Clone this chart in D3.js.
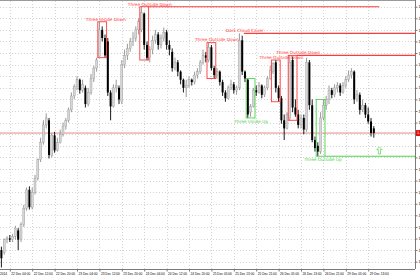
<!DOCTYPE html>
<html>
<head>
<meta charset="utf-8">
<title>H1 candles with patterns</title>
<script src="https://cdn.jsdelivr.net/npm/d3@7"></script>
<style>
    body { margin: 0; background: #fff; overflow: hidden; }
    svg { display: block; font-family: "DejaVu Sans", sans-serif; }
</style>
</head>
<body>
<div id="chart"></div>
<script>

// ---- data ----
var opens = [1.2090,1.2088,1.2099,1.2100,1.2099,1.2102,1.2107,1.2099,1.2112,1.2126,
    1.2142,1.2127,1.2140,1.2152,1.2168,1.2183,1.2198,1.2202,1.2172,1.2189,
    1.2176,1.2183,1.2190,1.2197,1.2202,1.2211,1.2223,1.2231,1.2237,1.2228,
    1.2230,1.2216,1.2226,1.2238,1.2247,1.2257,1.2280,1.2273,1.2270,1.2226,
    1.2214,1.2230,1.2230,1.2218,1.2250,1.2258,1.2264,1.2270,1.2273,1.2280,
    1.2280,1.2294,1.2267,1.2256,1.2263,1.2271,1.2276,1.2267,1.2273,1.2278,
    1.2267,1.2261,1.2247,1.2252,1.2244,1.2237,1.2230,1.2232,1.2237,1.2235,
    1.2241,1.2244,1.2252,1.2258,1.2254,1.2265,1.2247,1.2241,1.2244,1.2235,
    1.2226,1.2221,1.2230,1.2233,1.2228,1.2230,1.2271,1.2244,1.2237,1.2209,
    1.2214,1.2228,1.2226,1.2232,1.2224,1.2230,1.2238,1.2244,1.2252,1.2230,
    1.2221,1.2202,1.2195,1.2204,1.2254,1.2213,1.2207,1.2198,1.2204,1.2194,
    1.2252,1.2215,1.2185,1.2180,1.2175,1.2204,1.2215,1.2220,1.2228,1.2224,
    1.2230,1.2232,1.2226,1.2232,1.2237,1.2241,1.2244,1.2220,1.2224,1.2211,
    1.2215,1.2207,1.2201,1.2195];
var highs = [1.2093,1.2100,1.2102,1.2103,1.2104,1.2111,1.2109,1.2114,1.2129,1.2144,
    1.2145,1.2144,1.2155,1.2169,1.2187,1.2202,1.2208,1.2204,1.2191,1.2192,
    1.2187,1.2194,1.2200,1.2204,1.2213,1.2226,1.2233,1.2240,1.2238,1.2237,
    1.2232,1.2230,1.2242,1.2249,1.2256,1.2287,1.2283,1.2276,1.2273,1.2228,
    1.2233,1.2237,1.2232,1.2254,1.2263,1.2268,1.2273,1.2278,1.2283,1.2290,
    1.2300,1.2295,1.2270,1.2266,1.2275,1.2280,1.2278,1.2276,1.2282,1.2280,
    1.2271,1.2264,1.2256,1.2254,1.2245,1.2238,1.2237,1.2240,1.2238,1.2244,
    1.2247,1.2254,1.2263,1.2261,1.2269,1.2267,1.2249,1.2247,1.2245,1.2237,
    1.2228,1.2232,1.2237,1.2235,1.2232,1.2277,1.2275,1.2245,1.2238,1.2216,
    1.2230,1.2232,1.2235,1.2233,1.2232,1.2240,1.2249,1.2252,1.2254,1.2232,
    1.2223,1.2207,1.2209,1.2258,1.2257,1.2220,1.2211,1.2207,1.2207,1.2256,
    1.2254,1.2220,1.2188,1.2183,1.2209,1.2220,1.2223,1.2232,1.2230,1.2233,
    1.2235,1.2234,1.2235,1.2240,1.2245,1.2247,1.2245,1.2228,1.2226,1.2220,
    1.2217,1.2213,1.2204,1.2197];
var lows = [1.2075,1.2086,1.2096,1.2097,1.2097,1.2099,1.2090,1.2097,1.2110,1.2124,
    1.2125,1.2125,1.2138,1.2150,1.2166,1.2181,1.2195,1.2169,1.2170,1.2174,
    1.2175,1.2182,1.2188,1.2194,1.2200,1.2209,1.2220,1.2228,1.2225,1.2226,
    1.2213,1.2214,1.2224,1.2235,1.2244,1.2257,1.2270,1.2256,1.2223,1.2202,
    1.2213,1.2226,1.2216,1.2216,1.2247,1.2254,1.2261,1.2266,1.2270,1.2276,
    1.2278,1.2263,1.2254,1.2252,1.2259,1.2268,1.2263,1.2264,1.2270,1.2263,
    1.2258,1.2244,1.2245,1.2240,1.2233,1.2226,1.2222,1.2230,1.2232,1.2233,
    1.2238,1.2242,1.2250,1.2252,1.2252,1.2245,1.2238,1.2238,1.2232,1.2223,
    1.2218,1.2220,1.2228,1.2225,1.2224,1.2228,1.2241,1.2235,1.2204,1.2205,
    1.2213,1.2223,1.2225,1.2221,1.2222,1.2228,1.2237,1.2242,1.2226,1.2218,
    1.2199,1.2185,1.2194,1.2202,1.2209,1.2205,1.2195,1.2195,1.2190,1.2192,
    1.2211,1.2183,1.2175,1.2171,1.2173,1.2202,1.2211,1.2216,1.2221,1.2222,
    1.2226,1.2223,1.2225,1.2230,1.2235,1.2238,1.2216,1.2218,1.2207,1.2209,
    1.2204,1.2199,1.2188,1.2187];
var closes = [1.2083,1.2099,1.2100,1.2099,1.2102,1.2109,1.2099,1.2112,1.2126,1.2142,
    1.2127,1.2140,1.2152,1.2168,1.2183,1.2198,1.2204,1.2172,1.2189,1.2176,
    1.2183,1.2190,1.2197,1.2202,1.2211,1.2223,1.2231,1.2237,1.2228,1.2233,
    1.2216,1.2226,1.2238,1.2247,1.2254,1.2280,1.2273,1.2258,1.2226,1.2214,
    1.2230,1.2232,1.2220,1.2250,1.2258,1.2264,1.2270,1.2273,1.2280,1.2287,
    1.2295,1.2267,1.2256,1.2263,1.2271,1.2276,1.2267,1.2273,1.2278,1.2267,
    1.2263,1.2247,1.2252,1.2244,1.2237,1.2230,1.2232,1.2237,1.2235,1.2241,
    1.2244,1.2252,1.2258,1.2256,1.2265,1.2247,1.2241,1.2244,1.2235,1.2226,
    1.2221,1.2230,1.2233,1.2228,1.2230,1.2271,1.2244,1.2238,1.2207,1.2214,
    1.2228,1.2226,1.2232,1.2224,1.2230,1.2238,1.2245,1.2251,1.2230,1.2221,
    1.2202,1.2195,1.2207,1.2252,1.2213,1.2207,1.2198,1.2204,1.2194,1.2252,
    1.2215,1.2185,1.2178,1.2175,1.2204,1.2215,1.2220,1.2228,1.2224,1.2230,
    1.2232,1.2226,1.2232,1.2237,1.2241,1.2244,1.2220,1.2224,1.2211,1.2215,
    1.2207,1.2201,1.2191,1.2191];

var priceTicks = [1.2080,1.2090,1.2100,1.2110,1.2120,1.2130,1.2140,1.2150,1.2160,1.2170,
    1.2180,1.2190,1.2200,1.2210,1.2220,1.2230,1.2240,1.2250,1.2260,1.2270,
    1.2280,1.2290,1.2300];

var timeLabels = ["22 Dec 2014","22 Dec 04:00","22 Dec 12:00","22 Dec 20:00","23 Dec 04:00",
    "23 Dec 12:00","23 Dec 20:00","24 Dec 04:00","24 Dec 12:00","24 Dec 20:00",
    "25 Dec 05:00","25 Dec 13:00","25 Dec 21:00","26 Dec 05:00","26 Dec 13:00",
    "26 Dec 21:00","29 Dec 05:00","29 Dec 13:00"];
var firstLabelBar = -5, labelEvery = 8;

// candle patterns found on the chart
var patternNames = ["Three Inside Down","Three Outside Down","Three Outside Down","Dark Cloud Cover",
    "Three Inside Up","Three Outside Down","Three Outside Down","Three Outside Up"];
var patternStart = [35, 50, 74, 85, 88, 97, 103, 113];
var patternEnd = [37, 52, 76, 86, 90, 99, 105, 115];
var patternBull = [false, false, false, false, true, false, false, true];
var patternBox = [true, true, true, false, true, true, true, true];
var patternLineTo = [null, 135, null, 148, null, null, 148, 148];
var arrowBar = 135, arrowPrice = 1.2176;

// ---- layout ----
var width = 420, height = 280;
var plotRight = 415, plotBottom = 269;

var svg = d3.select("#chart")
    .append("svg")
    .attr("width", width)
    .attr("height", height);

var x = d3.scaleLinear().domain([0, 148]).range([1.4, 1.4 + 2.8 * 148]);
var y = d3.scaleLinear().domain([1.2080, 1.2300]).range([261.7, 6.7]);

var labelBars = timeLabels.map(function (d, i) { return firstLabelBar + i * labelEvery; });

// grid
var grid = svg.append("g");
grid.selectAll("hline")
    .data(priceTicks)
    .enter()
    .append("line")
    .attr("x1", 0).attr("x2", plotRight)
    .attr("y1", function (d) { return Math.round(y(d)) + 0.5; })
    .attr("y2", function (d) { return Math.round(y(d)) + 0.5; })
    .attr("stroke", "#d4d4d4")
    .attr("stroke-dasharray", "1,2");
grid.selectAll("vline")
    .data(labelBars)
    .enter()
    .append("line")
    .attr("x1", function (d) { return Math.round(x(d)) + 0.5; })
    .attr("x2", function (d) { return Math.round(x(d)) + 0.5; })
    .attr("y1", 1).attr("y2", plotBottom)
    .attr("stroke", "#d4d4d4")
    .attr("stroke-dasharray", "1,2");

// current price line
var last = closes[closes.length - 1];
svg.append("line")
    .attr("x1", 0).attr("x2", plotRight)
    .attr("y1", y(last)).attr("y2", y(last))
    .attr("stroke", "#e58c8c")
    .attr("stroke-width", 1);

// candles
var idx = d3.range(closes.length);
var candles = svg.append("g");
candles.selectAll("wick")
    .data(idx)
    .enter()
    .append("line")
    .attr("x1", function (i) { return x(i); })
    .attr("x2", function (i) { return x(i); })
    .attr("y1", function (i) { return y(highs[i]); })
    .attr("y2", function (i) { return y(lows[i]); })
    .attr("stroke", function (i) { return closes[i] >= opens[i] ? "#8c8c8c" : "#000"; })
    .attr("stroke-width", 0.9);
candles.selectAll("body")
    .data(idx)
    .enter()
    .append("rect")
    .attr("x", function (i) { return x(i) - 1; })
    .attr("width", 2)
    .attr("y", function (i) { return y(Math.max(opens[i], closes[i])); })
    .attr("height", function (i) { return Math.max(0.8, Math.abs(y(opens[i]) - y(closes[i]))); })
    .attr("fill", function (i) { return closes[i] >= opens[i] ? "#d6d6d6" : "#000"; })
    .attr("stroke", function (i) { return closes[i] >= opens[i] ? "#9a9a9a" : "none"; })
    .attr("stroke-width", 0.4);

// patterns
var pat = svg.append("g");
patternNames.forEach(function (name, k) {
    var s = patternStart[k], e = patternEnd[k];
    var hi = d3.max(d3.range(s, e + 1), function (i) { return highs[i]; });
    var lo = d3.min(d3.range(s, e + 1), function (i) { return lows[i]; });
    var col = patternBull[k] ? "#4cd44c" : "#ff3a3a";
    var x0 = x(s) - 1.6, x1 = x(e) + 1.6;
    if (patternBox[k]) {
        pat.append("rect")
            .attr("x", x0).attr("y", y(hi))
            .attr("width", x1 - x0).attr("height", y(lo) - y(hi))
            .attr("fill", "none")
            .attr("stroke", col)
            .attr("stroke-width", 0.9);
    }
    var level = patternBull[k] ? lo : hi;
    if (patternLineTo[k] !== null) {
        pat.append("line")
            .attr("x1", x1).attr("x2", Math.min(plotRight, x(patternLineTo[k])))
            .attr("y1", y(level)).attr("y2", y(level))
            .attr("stroke", col)
            .attr("stroke-width", 1.1);
    }
    pat.append("text")
        .attr("x", x0 - 12)
        .attr("y", patternBull[k] ? y(lo) + 5 : y(hi) - 1.2)
        .style("font-size", "4.3px")
        .attr("fill", col)
        .text(name);
});

// arrow mark
var ax = x(arrowBar), ay = y(arrowPrice);
svg.append("path")
    .attr("d", "M" + ax + "," + (ay - 3.5) + " L" + (ax + 2.6) + "," + (ay - 0.8) +
        " L" + (ax + 1.1) + "," + (ay - 0.8) + " L" + (ax + 1.1) + "," + (ay + 3.5) +
        " L" + (ax - 1.1) + "," + (ay + 3.5) + " L" + (ax - 1.1) + "," + (ay - 0.8) +
        " L" + (ax - 2.6) + "," + (ay - 0.8) + " Z")
    .attr("fill", "none")
    .attr("stroke", "#4cd44c")
    .attr("stroke-width", 0.7);

// frame top
svg.append("line")
    .attr("x1", 0).attr("x2", plotRight)
    .attr("y1", 0.5).attr("y2", 0.5)
    .attr("stroke", "#9a9a9a");

// right price axis (the label under the price tag is left out)
var axisTicks = priceTicks.filter(function (d) { return Math.abs(y(d) - y(last)) > 4; });
var yAxis = svg.append("g")
    .attr("transform", "translate(" + (plotRight + 0.5) + ",0)")
    .call(d3.axisRight(y).tickValues(axisTicks).tickSize(2).tickPadding(1)
        .tickFormat(d3.format(".4f")));
yAxis.select(".domain").attr("stroke", "#7a7a7a").attr("d", "M0,0V" + plotBottom);
yAxis.selectAll(".tick line").attr("stroke", "#7a7a7a");
yAxis.selectAll("text").style("font-size", "3.6px").attr("fill", "#000");

// bottom time axis
var xAxis = svg.append("g")
    .attr("transform", "translate(0," + (plotBottom + 0.5) + ")")
    .call(d3.axisBottom(x).tickValues(labelBars).tickSize(2)
        .tickFormat(function (d, i) { return timeLabels[i]; }));
xAxis.select(".domain").attr("stroke", "#7a7a7a").attr("d", "M0,0H" + plotRight);
xAxis.selectAll(".tick line").attr("stroke", "#7a7a7a");
xAxis.selectAll("text")
    .style("font-size", "3.2px")
    .attr("fill", "#000")
    .attr("text-anchor", "start")
    .attr("x", 1)
    .attr("y", 3);

// current price tag
svg.append("rect")
    .attr("x", plotRight + 1).attr("y", y(last) - 3)
    .attr("width", 12).attr("height", 6)
    .attr("fill", "#e01010");
svg.append("text")
    .attr("x", plotRight + 2).attr("y", y(last) + 1.3)
    .style("font-size", "3.6px")
    .attr("fill", "#fff")
    .text(d3.format(".4f")(last));

</script>
</body>
</html>
